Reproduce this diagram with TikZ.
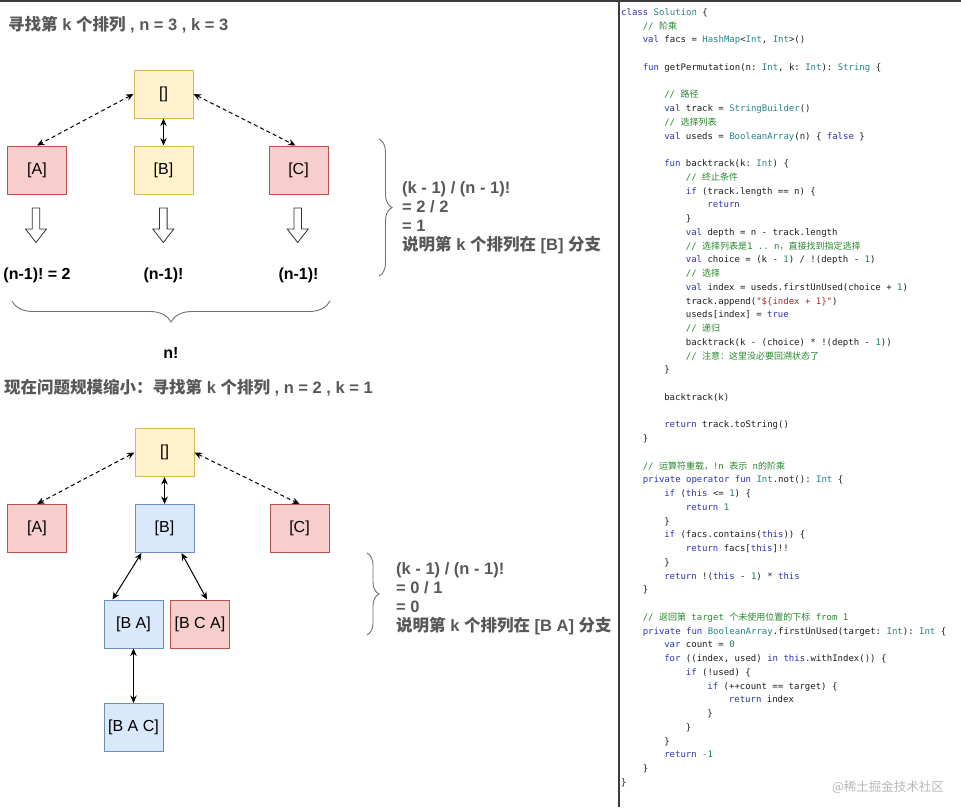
\documentclass[tikz,border=0pt]{standalone}
\usepackage{fontspec}
\usepackage{xcolor}
\setmainfont{Liberation Sans}
\newfontfamily\zhfont{Noto Sans CJK SC}
\newfontfamily\codefont{DejaVu Sans Mono}
\usetikzlibrary{arrows.meta, decorations.pathreplacing}
\frenchspacing
\definecolor{boxYellow}{HTML}{FFF2CC}
\definecolor{boxYellowLine}{HTML}{D6B656}
\definecolor{boxRed}{HTML}{F8CECC}
\definecolor{boxRedLine}{HTML}{B85450}
\definecolor{boxBlue}{HTML}{DAE8FC}
\definecolor{boxBlueLine}{HTML}{6C8EBF}
\definecolor{noteGray}{RGB}{88,88,88}
\definecolor{frameGray}{RGB}{60,60,60}
\definecolor{codeText}{RGB}{30,30,30}
\definecolor{codeKeyword}{RGB}{46,52,180}
\definecolor{codeType}{RGB}{38,132,140}
\definecolor{codeNumber}{RGB}{28,130,110}
\definecolor{codeComment}{RGB}{40,135,45}
\definecolor{codeString}{RGB}{175,45,40}
\newcommand{\zh}[1]{{\zhfont #1}}
\newcommand{\kw}[1]{\textcolor{codeKeyword}{#1}}
\newcommand{\ty}[1]{\textcolor{codeType}{#1}}
\newcommand{\nm}[1]{\textcolor{codeNumber}{#1}}
\newcommand{\cm}[1]{\textcolor{codeComment}{#1}}
\newcommand{\st}[1]{\textcolor{codeString}{#1}}
\newcommand{\codeline}[3]{\node[codetext] (code#1) at ({621+21.55*#2},{13+13.75*(#1-1)}) {#3};}
\tikzset{
    permbox/.style={
        rectangle,
        line width=1pt,
        minimum width=59pt,
        minimum height=48pt,
        inner sep=0pt,
        font=\fontsize{16}{19}\selectfont
    },
    yellowbox/.style={permbox, draw=boxYellowLine, fill=boxYellow},
    redbox/.style={permbox, draw=boxRedLine, fill=boxRed},
    bluebox/.style={permbox, draw=boxBlueLine, fill=boxBlue},
    solidlink/.style={{Stealth[length=7.5pt,width=6.5pt]}-{Stealth[length=7.5pt,width=6.5pt]}, line width=1pt},
    dashlink/.style={solidlink, dash pattern=on 4pt off 3pt},
    headline/.style={anchor=west, inner sep=0pt, text=noteGray, font=\bfseries\fontsize{16.5}{19}\selectfont},
    notetext/.style={anchor=west, inner sep=0pt, align=left, text=noteGray, font=\bfseries\fontsize{16.5}{19}\selectfont},
    countlabel/.style={inner sep=0pt, font=\bfseries\fontsize{16}{19}\selectfont},
    bracegray/.style={decorate, draw=noteGray!85, line width=0.9pt},
    codetext/.style={anchor=west, inner sep=0pt, text=codeText, text height=6.8pt, text depth=1.9pt,
        font=\codefont\fontsize{9}{11}\selectfont},
    frameline/.style={draw=frameGray, line width=1.6pt},
    hollowdown/.pic={
        \draw[line width=0.8pt, draw=black!80, fill=white]
            (-3.8,0) -- (-3.8,21) -- (-10.5,21) -- (0,34.5) -- (10.5,21) -- (3.8,21) -- (3.8,0) -- cycle;
    }
}
\begin{document}
\begin{tikzpicture}[x=1pt,y=-1pt]
    \useasboundingbox (0,0) rectangle (961,807);
    \fill[white] (0,0) rectangle (961,807);
    \draw[frameline, line width=2pt] (0,1) -- (961,1);
    \draw[frameline] (619,0) -- (619,807);

    % first step: n = 3, k = 3
    \node[headline] (titleOne) at (8,25) {\zh{寻找第} k \zh{个排列} , n = 3 , k = 3};
    \node[yellowbox] (root) at (163.5,94) {[]};
    \node[redbox] (permA) at (37,170) {[A]};
    \node[yellowbox] (permB) at (163.5,170) {[B]};
    \node[redbox] (permC) at (298.5,170) {[C]};
    \draw[dashlink] (root.west) -- (permA.north);
    \draw[solidlink] (root.south) -- (permB.north);
    \draw[dashlink] (root.east) -- ([xshift=-3pt]permC.north);
    \pic (downA) at (36,208) {hollowdown};
    \pic (downB) at (163.3,208) {hollowdown};
    \pic (downC) at (297.7,208) {hollowdown};
    \node[countlabel] (countA) at (37,275) {(n-1)! = 2};
    \node[countlabel] (countB) at (163.5,275) {(n-1)!};
    \node[countlabel] (countC) at (298.5,275) {(n-1)!};
    \coordinate (braceL) at (12,301);
    \coordinate (braceR) at (330,301);
    \draw[bracegray, decoration={brace, mirror, amplitude=21pt}] (braceL) -- (braceR);
    \node[countlabel] (total) at (171,353) {n!};
    \coordinate (noteOneTop) at (379,139);
    \coordinate (noteOneBot) at (379,276);
    \draw[bracegray, decoration={brace, amplitude=13pt}] (noteOneTop) -- (noteOneBot);
    \node[notetext] (noteOne) at (402,217.75) {(k - 1) / (n - 1)!\\= 2 / 2\\= 1\\\zh{说明第} k \zh{个排列在} [B] \zh{分支}};

    % second step: n = 2, k = 1
    \node[headline] (titleTwo) at (4,388) {\zh{现在问题规模缩小：寻找第} k \zh{个排列} , n = 2 , k = 1};
    \node[yellowbox] (rootTwo) at (164.5,452.5) {[]};
    \node[redbox] (permAtwo) at (37,528.5) {[A]};
    \node[bluebox] (permBtwo) at (164.5,528.5) {[B]};
    \node[redbox] (permCtwo) at (299.5,528.5) {[C]};
    \node[bluebox] (permBA) at (133.5,624) {[B A]};
    \node[redbox] (permBCA) at (200,624) {[B C A]};
    \node[bluebox] (permBAC) at (133.5,727.5) {[B A C]};
    \draw[dashlink] (rootTwo.west) -- (permAtwo.north);
    \draw[solidlink] (rootTwo.south) -- (permBtwo.north);
    \draw[dashlink] (rootTwo.east) -- (permCtwo.north);
    \draw[solidlink] ([xshift=7pt]permBtwo.south west) -- ([xshift=9pt]permBA.north west);
    \draw[solidlink] ([xshift=-13pt]permBtwo.south east) -- ([xshift=-23pt]permBCA.north east);
    \draw[solidlink] (permBA.south) -- (permBAC.north);
    \coordinate (noteTwoTop) at (367,553);
    \coordinate (noteTwoBot) at (367,635);
    \draw[bracegray, decoration={brace, amplitude=12pt}] (noteTwoTop) -- (noteTwoBot);
    \node[notetext] (noteTwo) at (396,598.75) {(k - 1) / (n - 1)!\\= 0 / 1\\= 0\\\zh{说明第} k \zh{个排列在} [B A] \zh{分支}};

    % code listing
    \codeline{1}{0}{\kw{class} \ty{Solution} \{}
    \codeline{2}{1}{\cm{// \zh{阶乘}}}
    \codeline{3}{1}{\kw{val} facs = \ty{HashMap}<\ty{Int}, \ty{Int}>()}
    \codeline{5}{1}{\kw{fun} getPermutation(n: \ty{Int}, k: \ty{Int}): \ty{String} \{}
    \codeline{7}{2}{\cm{// \zh{路径}}}
    \codeline{8}{2}{\kw{val} track = \ty{StringBuilder}()}
    \codeline{9}{2}{\cm{// \zh{选择列表}}}
    \codeline{10}{2}{\kw{val} useds = \ty{BooleanArray}(n) \{ \kw{false} \}}
    \codeline{12}{2}{\kw{fun} backtrack(k: \ty{Int}) \{}
    \codeline{13}{3}{\cm{// \zh{终止条件}}}
    \codeline{14}{3}{\kw{if} (track.length == n) \{}
    \codeline{15}{4}{\kw{return}}
    \codeline{16}{3}{\}}
    \codeline{17}{3}{\kw{val} depth = n - track.length}
    \codeline{18}{3}{\cm{// \zh{选择列表是}1 .. n\zh{，直接找到指定选择}}}
    \codeline{19}{3}{\kw{val} choice = (k - \nm{1}) / !(depth - \nm{1})}
    \codeline{20}{3}{\cm{// \zh{选择}}}
    \codeline{21}{3}{\kw{val} index = useds.firstUnUsed(choice + \nm{1})}
    \codeline{22}{3}{track.append(\st{"\$\{index + 1\}"})}
    \codeline{23}{3}{useds[index] = \kw{true}}
    \codeline{24}{3}{\cm{// \zh{递归}}}
    \codeline{25}{3}{backtrack(k - (choice) * !(depth - \nm{1}))}
    \codeline{26}{3}{\cm{// \zh{注意：这里没必要回溯状态了}}}
    \codeline{27}{2}{\}}
    \codeline{29}{2}{backtrack(k)}
    \codeline{31}{2}{\kw{return} track.toString()}
    \codeline{32}{1}{\}}
    \codeline{34}{1}{\cm{// \zh{运算符重载，}!n \zh{表示} n\zh{的阶乘}}}
    \codeline{35}{1}{\kw{private} \kw{operator} \kw{fun} \ty{Int}.not(): \ty{Int} \{}
    \codeline{36}{2}{\kw{if} (\kw{this} <= \nm{1}) \{}
    \codeline{37}{3}{\kw{return} \nm{1}}
    \codeline{38}{2}{\}}
    \codeline{39}{2}{\kw{if} (facs.contains(\kw{this})) \{}
    \codeline{40}{3}{\kw{return} facs[\kw{this}]!!}
    \codeline{41}{2}{\}}
    \codeline{42}{2}{\kw{return} !(\kw{this} - \nm{1}) * \kw{this}}
    \codeline{43}{1}{\}}
    \codeline{45}{1}{\cm{// \zh{返回第} target \zh{个未使用位置的下标} from 1}}
    \codeline{46}{1}{\kw{private} \kw{fun} \ty{BooleanArray}.firstUnUsed(target: \ty{Int}): \ty{Int} \{}
    \codeline{47}{2}{\kw{var} count = \nm{0}}
    \codeline{48}{2}{\kw{for} ((index, used) \kw{in} \kw{this}.withIndex()) \{}
    \codeline{49}{3}{\kw{if} (!used) \{}
    \codeline{50}{4}{\kw{if} (++count == target) \{}
    \codeline{51}{5}{\kw{return} index}
    \codeline{52}{4}{\}}
    \codeline{53}{3}{\}}
    \codeline{54}{2}{\}}
    \codeline{55}{2}{\kw{return} \nm{-1}}
    \codeline{56}{1}{\}}
    \codeline{57}{0}{\}}
    \node[inner sep=0pt, text=black!28, font=\zhfont\fontsize{12.5}{14}\selectfont] (watermark) at (888,787) {@稀土掘金技术社区};
\end{tikzpicture}
\end{document}
